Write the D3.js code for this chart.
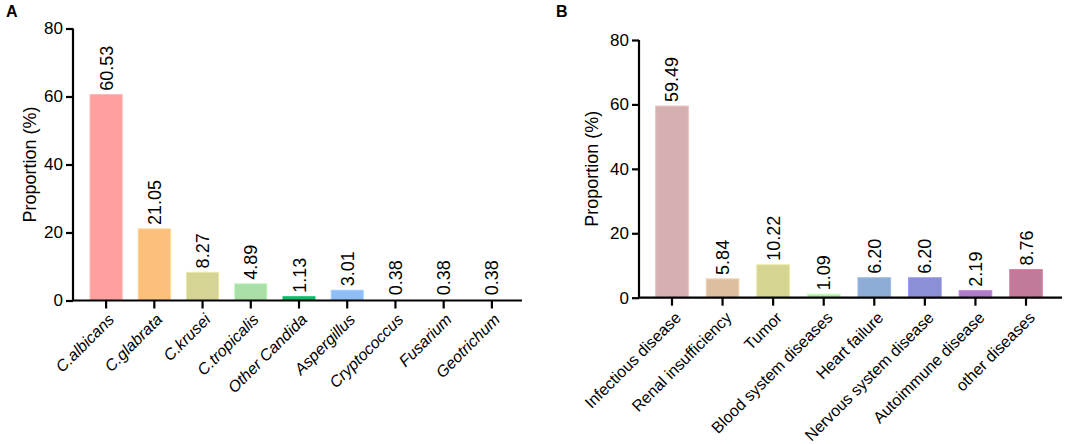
<!DOCTYPE html>
<html>
<head>
<meta charset="utf-8">
<script src="https://cdn.jsdelivr.net/npm/d3@7"></script>
<style>
  body { margin: 0; background: #fff; }
  svg { font-family: 'Liberation Sans', Arial, sans-serif; }
</style>
</head>
<body>
<svg width="1084" height="444"></svg>
<script>
const pathogens = ['C.albicans', 'C.glabrata', 'C.krusei', 'C.tropicalis', 'Other Candida',
  'Aspergillus', 'Cryptococcus', 'Fusarium', 'Geotrichum']
const pathogenValues = [60.53, 21.05, 8.27, 4.89, 1.13, 3.01, 0.38, 0.38, 0.38]
const pathogenLabels = ['60.53', '21.05', '8.27', '4.89', '1.13', '3.01', '0.38', '0.38', '0.38']
const pathogenColors = ['#ff9f9f', '#fdbf7c', '#d6d494', '#a9dfa6', '#14b86a', '#8fbdf5', '#ffffff', '#ffffff', '#ffffff']

const diseases = ['Infectious disease', 'Renal insufficiency', 'Tumor', 'Blood system diseases',
  'Heart failure', 'Nervous system disease', 'Autoimmune disease', 'other diseases']
const diseaseValues = [59.49, 5.84, 10.22, 1.09, 6.20, 6.20, 2.19, 8.76]
const diseaseLabels = ['59.49', '5.84', '10.22', '1.09', '6.20', '6.20', '2.19', '8.76']
const diseaseColors = ['#d6b0b0', '#ddbe9f', '#d5d592', '#b0eba8', '#8eadd6', '#8a8fd6', '#b07cc8', '#c27a9a']

const yTicks = [0, 20, 40, 60, 80]

const svg = d3.select('svg')

function panel ({ letter, lx, axisX, axisEnd, bandRange, yRange, pad, italic, titleX, catDx, catDy }, cats, values, labels, colors) {
  const g = svg.append('g')
  const x = d3.scaleBand().domain(cats).range(bandRange).paddingInner(pad).paddingOuter(pad / 2)
  const y = d3.scaleLinear().domain([0, 80]).range(yRange)

  g.append('text').attr('x', lx).attr('y', 17)
    .attr('font-weight', 'bold').attr('font-size', 16).text(letter)

  // bars
  g.selectAll('rect.bar').data(cats).join('rect')
    .classed('bar', true)
    .attr('x', d => x(d))
    .attr('width', x.bandwidth())
    .attr('y', (d, i) => y(values[i]))
    .attr('height', (d, i) => y(0) - y(values[i]))
    .attr('fill', (d, i) => colors[i])
    .attr('stroke', (d, i) => d3.color(colors[i]).brighter(0.25))
    .attr('stroke-width', 1)

  // value labels
  g.selectAll('text.val').data(cats).join('text')
    .classed('val', true)
    .attr('font-size', 18)
    .attr('transform', (d, i) => `translate(${ x(d) + x.bandwidth() / 2 + 6.5 }, ${ y(values[i]) - 4 }) rotate(-90)`)
    .text((d, i) => labels[i])

  // y axis
  const ya = g.append('g').attr('transform', `translate(${ axisX },0)`)
    .call(d3.axisLeft(y).tickValues(yTicks).tickSize(7).tickPadding(3))
  ya.select('.domain').attr('stroke-width', 2.2).attr('d', `M0,${ yRange[1] }V${ yRange[0] }`)
  ya.selectAll('.tick line').attr('stroke-width', 2.2)
  ya.selectAll('.tick text').attr('font-size', 17).attr('fill', '#000')
    .attr('font-family', "'Liberation Sans', Arial, sans-serif")

  // x axis
  const xa = g.append('g').attr('transform', `translate(0,${ yRange[0] })`)
    .call(d3.axisBottom(x).tickSize(8).tickFormat(''))
  xa.select('.domain').attr('stroke-width', 2.2).attr('d', `M${ axisX - 1 },0H${ axisEnd }`)
  xa.selectAll('.tick line').attr('stroke-width', 2.2)

  g.selectAll('text.cat').data(cats).join('text')
    .classed('cat', true)
    .attr('font-size', 16)
    .attr('font-style', italic ? 'italic' : 'normal')
    .attr('text-anchor', 'end')
    .attr('transform', d => `translate(${ x(d) + x.bandwidth() / 2 + catDx }, ${ yRange[0] + catDy }) rotate(-45)`)
    .text(d => d)

  g.append('text')
    .attr('font-size', 18)
    .attr('text-anchor', 'middle')
    .attr('transform', `translate(${ titleX }, ${ (yRange[0] + yRange[1]) / 2 }) rotate(-90)`)
    .text('Proportion (%)')
}

panel({ letter: 'A', lx: 6, axisX: 73, axisEnd: 522, bandRange: [82, 516], yRange: [300.5, 28.5],
  pad: 0.336, italic: true, titleX: 36, catDx: 9, catDy: 20 }, pathogens, pathogenValues, pathogenLabels, pathogenColors)

panel({ letter: 'B', lx: 556, axisX: 639, axisEnd: 1062, bandRange: [646.7, 1051.3], yRange: [297.7, 40],
  pad: 0.354, italic: false, titleX: 598, catDx: 10, catDy: 21 }, diseases, diseaseValues, diseaseLabels, diseaseColors)
</script>
</body>
</html>
